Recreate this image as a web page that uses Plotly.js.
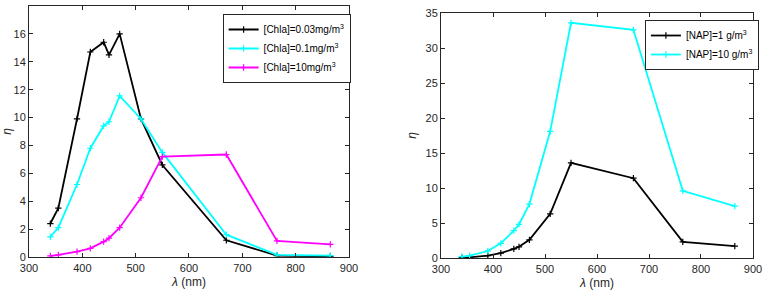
<!DOCTYPE html>
<html><head><meta charset="utf-8">
<script src="https://cdn.plot.ly/plotly-3.0.1.min.js"></script>
<style>html,body{margin:0;padding:0;background:#fff}#c{width:765px;height:295px}</style>
</head><body><div id="c"></div>
<script>
var wavelengths = [340, 355, 390, 415, 440, 450, 470, 510, 550, 670, 765, 865];
var chla003 = [2.4, 3.5, 9.9, 14.7, 15.4, 14.5, 16.0, 9.9, 6.6, 1.2, 0.1, 0.05];
var chla01 = [1.45, 2.1, 5.2, 7.8, 9.4, 9.7, 11.55, 9.9, 7.5, 1.6, 0.15, 0.1];
var chla10 = [0.08, 0.15, 0.38, 0.62, 1.1, 1.35, 2.1, 4.25, 7.2, 7.35, 1.15, 0.9];
var nap1 = [0.05, 0.1, 0.35, 0.7, 1.3, 1.6, 2.6, 6.3, 13.6, 11.4, 2.3, 1.7];
var nap10 = [0.2, 0.35, 1.0, 2.1, 3.9, 4.8, 7.7, 18.1, 33.6, 32.6, 9.6, 7.4];
var names = ['[Chla]=0.03mg/m<sup>3</sup>', '[Chla]=0.1mg/m<sup>3</sup>', '[Chla]=10mg/m<sup>3</sup>',
             '[NAP]=1 g/m<sup>3</sup>', '[NAP]=10 g/m<sup>3</sup>'];

function tr(y, name, color, xa, ya, lg) {
  return {x: wavelengths, y: y, name: name, type: 'scatter', mode: 'lines+markers',
    xaxis: xa, yaxis: ya, legend: lg,
    line: {color: color, width: 1.8},
    marker: {symbol: 'cross-thin', size: 4.5, line: {color: color, width: 1.2}, color: color}};
}
var data = [
  tr(chla003, names[0], '#000000', 'x', 'y', 'legend'),
  tr(chla01, names[1], '#00FFFF', 'x', 'y', 'legend'),
  tr(chla10, names[2], '#FF00FF', 'x', 'y', 'legend'),
  tr(nap1, names[3], '#000000', 'x2', 'y2', 'legend2'),
  tr(nap10, names[4], '#00FFFF', 'x2', 'y2', 'legend2')
];
var axc = '#262626';
function ax(o) {
  return Object.assign({showgrid: false, zeroline: false, showline: true, linecolor: axc, linewidth: 1,
    mirror: 'ticks', ticks: 'inside', ticklen: 4, tickcolor: axc, automargin: false,
    tickfont: {family: 'Liberation Sans, Arial, sans-serif', size: 11, color: axc}}, o);
}
var tf = {family: 'Liberation Sans, Arial, sans-serif', size: 12, color: axc};
var layout = {
  width: 765, height: 295, margin: {l: 0, r: 0, t: 0, b: 0},
  paper_bgcolor: '#fff', plot_bgcolor: '#fff', showlegend: true,
  font: {family: 'Liberation Sans, Arial, sans-serif'},
  xaxis: ax({domain: [0.0379, 0.4562], range: [300, 900], tickvals: [300,400,500,600,700,800,900], anchor: 'y',
    ticklabelstandoff: 1, title: {text: '<i>λ</i> (nm)', font: tf, standoff: 4}}),
  yaxis: ax({domain: [0.1288, 0.9797], range: [0, 18], tickvals: [0,2,4,6,8,10,12,14,16,18], anchor: 'x',
    title: {text: '<i>η</i>', font: tf, standoff: 6}}),
  xaxis2: ax({domain: [0.5765, 0.9843], range: [300, 900], tickvals: [300,400,500,600,700,800,900], anchor: 'y2',
    ticklabelstandoff: 1, title: {text: '<i>λ</i> (nm)', font: tf, standoff: 4}}),
  yaxis2: ax({domain: [0.1254, 0.9559], range: [0, 35], tickvals: [0,5,10,15,20,25,30,35], anchor: 'x2',
    title: {text: '<i>η</i>', font: tf, standoff: 6}}),
  legend: {x: 0.291, y: 0.9525, xanchor: 'left', yanchor: 'top', bgcolor: '#fff', bordercolor: axc, borderwidth: 1,
    font: {family: 'Liberation Sans, Arial, sans-serif', size: 10, color: '#000'}, tracegroupgap: 0, itemwidth: 30},
  legend2: {x: 0.843, y: 0.9322, xanchor: 'left', yanchor: 'top', bgcolor: '#fff', bordercolor: axc, borderwidth: 1,
    font: {family: 'Liberation Sans, Arial, sans-serif', size: 10, color: '#000'}, tracegroupgap: 0, itemwidth: 30}
};
Plotly.newPlot('c', data, layout, {staticPlot: true, displayModeBar: false});
</script></body></html>
